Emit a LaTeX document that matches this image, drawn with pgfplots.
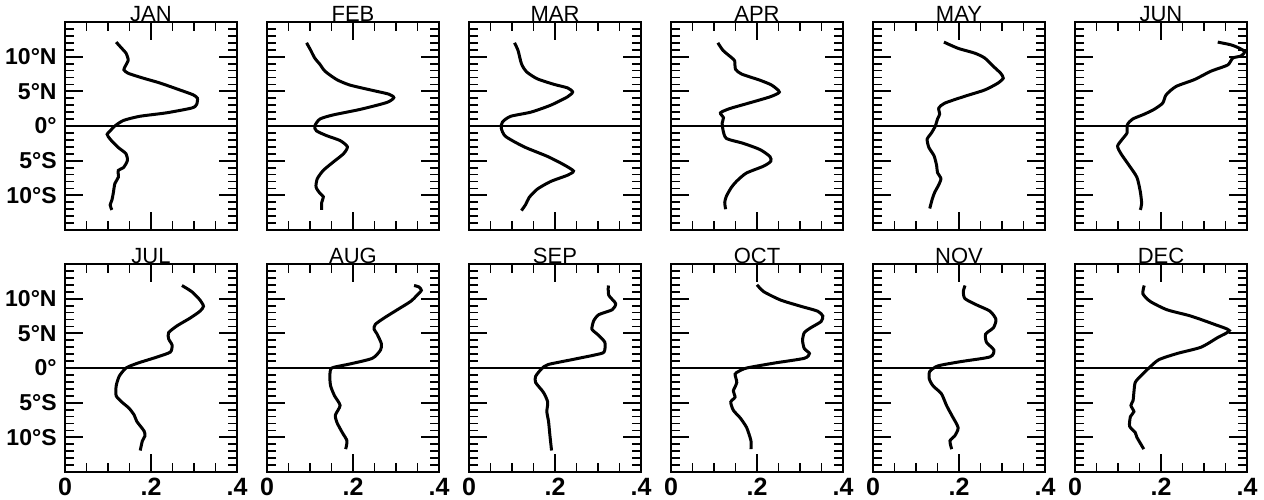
\documentclass[border=0pt]{standalone}
\usepackage{fontspec}
\setmainfont{Liberation Sans}
\usepackage{pgfplots}
\pgfplotsset{compat=1.18}
\usepgfplotslibrary{groupplots}

\pgfplotsset{
  every axis title/.style={at={(0.5,1)}, anchor=base, inner sep=0pt, yshift=0.5pt,
    font=\fontsize{11}{11}\selectfont},
  panel/.style={
    scale only axis, width=86pt, height=104pt,
    xmin=0, xmax=0.4, ymin=-15, ymax=15,
    xtick={0,0.2,0.4},
    minor xtick={0.05,0.1,0.15,0.25,0.3,0.35},
    ytick={-10,-5,0,5,10},
    minor ytick={-14,-13,-12,-11,-9,-8,-7,-6,-4,-3,-2,-1,1,2,3,4,6,7,8,9,11,12,13,14},
    tick align=inside,
    major tick length=9pt, minor tick length=4.5pt,
    every tick/.style={black, line width=0.9pt},
    axis line style={line width=1pt},
    xticklabels={}, yticklabels={},
    xticklabel style={font=\fontsize{12.5}{12.5}\selectfont\bfseries, inner sep=0pt, yshift=-3pt},
    yticklabel style={font=\fontsize{11.5}{11.5}\selectfont\bfseries, inner sep=0pt, xshift=-4pt},
  },
  curve/.style={black, line width=1.5pt, smooth, tension=0.4, no marks},
  eq/.style={black, line width=0.7pt, no marks},
}

\begin{document}
\begin{tikzpicture}
\begin{groupplot}[group style={group size=6 by 2, horizontal sep=15pt, vertical sep=17pt}, panel]

% ---- top row
\nextgroupplot[title={JAN}, yticklabels={10°S,5°S,0°,5°N,10°N}]
\addplot[eq] coordinates {(0,0) (0.4,0)};
\addplot[curve] coordinates {
(0.119,12.1) (0.132,11.2) (0.142,10.5) (0.147,9.5) (0.140,8.6) (0.137,8.1)
(0.147,7.6) (0.182,6.9) (0.221,6.2) (0.267,5.2) (0.298,4.5) (0.308,4.0)
(0.306,3.1) (0.295,2.6) (0.236,1.9) (0.174,1.4) (0.136,0.8) (0.116,0)
(0.105,-0.7) (0.098,-1.2) (0.105,-1.9) (0.124,-3.1) (0.142,-4.0) (0.145,-5.0)
(0.136,-6.0) (0.124,-6.4) (0.124,-7.4) (0.116,-8.3) (0.112,-9.8) (0.109,-10.7)
(0.105,-11.4) (0.109,-12.1)};

\nextgroupplot[title={FEB}]
\addplot[eq] coordinates {(0,0) (0.4,0)};
\addplot[curve] coordinates {
(0.092,12.0) (0.101,11.0) (0.111,9.8) (0.123,8.9) (0.135,7.9) (0.162,6.7)
(0.193,5.9) (0.248,5.1) (0.283,4.6) (0.295,4.1) (0.279,3.4) (0.217,2.4)
(0.154,1.6) (0.123,1.0) (0.111,0) (0.115,-0.7) (0.139,-1.4) (0.170,-2.1)
(0.187,-3.0) (0.178,-4.0) (0.154,-5.2) (0.131,-6.4) (0.117,-7.6) (0.114,-8.8)
(0.123,-9.7) (0.131,-10.2) (0.127,-11.1) (0.127,-12.1)};

\nextgroupplot[title={MAR}]
\addplot[eq] coordinates {(0,0) (0.4,0)};
\addplot[curve] coordinates {
(0.106,12.0) (0.114,10.9) (0.120,9.4) (0.124,8.7) (0.134,7.8) (0.159,6.8)
(0.198,6.0) (0.229,5.5) (0.241,4.9) (0.229,4.2) (0.190,3.0) (0.144,2.0)
(0.097,1.4) (0.078,0.6) (0.075,-0.3) (0.085,-1.5) (0.128,-3.0) (0.183,-4.4)
(0.221,-5.6) (0.243,-6.5) (0.229,-7.1) (0.190,-8.0) (0.159,-9.1) (0.140,-10.3)
(0.132,-11.3) (0.122,-12.2)};

\nextgroupplot[title={APR}]
\addplot[eq] coordinates {(0,0) (0.4,0)};
\addplot[curve] coordinates {
(0.109,12.0) (0.121,10.9) (0.140,9.9) (0.148,9.4) (0.150,8.2) (0.164,7.5)
(0.207,6.6) (0.234,5.9) (0.252,4.9) (0.230,4.2) (0.175,3.2) (0.136,2.5)
(0.115,1.9) (0.122,1.2) (0.119,0.4) (0.121,-0.6) (0.129,-1.8) (0.168,-2.5)
(0.207,-3.4) (0.230,-4.4) (0.232,-5.1) (0.215,-5.8) (0.175,-6.8) (0.152,-8.0)
(0.140,-8.9) (0.129,-10.1) (0.125,-11.0) (0.127,-12.0)};

\nextgroupplot[title={MAY}]
\addplot[eq] coordinates {(0,0) (0.4,0)};
\addplot[curve] coordinates {
(0.165,12.1) (0.198,11.2) (0.237,10.5) (0.260,9.8) (0.280,8.6) (0.297,7.6)
(0.303,6.9) (0.291,6.2) (0.260,5.2) (0.214,4.3) (0.167,3.3) (0.153,2.6)
(0.155,1.7) (0.150,1.0) (0.145,0) (0.136,-1.0) (0.126,-1.9) (0.130,-3.1)
(0.142,-4.3) (0.148,-5.7) (0.150,-6.7) (0.158,-7.6) (0.152,-8.6) (0.144,-9.5)
(0.138,-10.5) (0.132,-11.9)};

\nextgroupplot[title={JUN}]
\addplot[eq] coordinates {(0,0) (0.4,0)};
\addplot[curve] coordinates {
(0.332,12.1) (0.363,11.7) (0.383,11.2) (0.395,10.7) (0.386,10.1) (0.367,9.8)
(0.355,8.8) (0.316,7.9) (0.278,6.7) (0.235,5.7) (0.212,4.5) (0.204,3.3)
(0.184,2.4) (0.161,1.7) (0.134,1.0) (0.122,0.2) (0.121,-1.0) (0.110,-1.9)
(0.099,-2.9) (0.107,-4.0) (0.126,-5.7) (0.144,-7.4) (0.152,-9.5) (0.155,-11.2)
(0.152,-12.1)};

% ---- bottom row
\nextgroupplot[title={JUL}, yticklabels={10°S,5°S,0°,5°N,10°N}, xticklabels={0,.2,.4}]
\addplot[eq] coordinates {(0,0) (0.4,0)};
\addplot[curve] coordinates {
(0.272,11.9) (0.295,11.0) (0.314,9.8) (0.322,8.9) (0.314,8.2) (0.291,7.2)
(0.261,6.1) (0.241,5.1) (0.241,4.2) (0.249,3.3) (0.245,2.3) (0.215,1.6)
(0.169,0.7) (0.142,0) (0.126,-1.2) (0.119,-2.6) (0.119,-4.0) (0.132,-4.9)
(0.149,-5.8) (0.161,-6.8) (0.167,-7.7) (0.184,-9.1) (0.186,-9.8) (0.180,-10.5)
(0.175,-11.9)};

\nextgroupplot[title={AUG}, xticklabels={0,.2,.4}]
\addplot[eq] coordinates {(0,0) (0.4,0)};
\addplot[curve] coordinates {
(0.342,11.9) (0.353,11.7) (0.359,11.2) (0.349,10.5) (0.334,9.6) (0.303,8.4)
(0.272,7.2) (0.252,6.3) (0.249,5.6) (0.256,4.9) (0.266,3.5) (0.264,2.6)
(0.245,1.4) (0.194,0.6) (0.155,0.1) (0.148,-0.2) (0.146,-1.2) (0.148,-2.6)
(0.157,-4.0) (0.170,-5.4) (0.159,-6.8) (0.163,-7.9) (0.175,-9.3) (0.186,-10.5)
(0.183,-11.7)};

\nextgroupplot[title={SEP}, xticklabels={0,.2,.4}]
\addplot[eq] coordinates {(0,0) (0.4,0)};
\addplot[curve] coordinates {
(0.324,11.9) (0.325,10.5) (0.341,9.3) (0.333,8.4) (0.302,7.7) (0.290,6.8)
(0.286,5.6) (0.298,4.9) (0.316,3.7) (0.314,2.3) (0.294,1.9) (0.239,1.2)
(0.184,0.5) (0.169,-0.1) (0.155,-1.2) (0.155,-2.1) (0.173,-3.5) (0.183,-4.9)
(0.181,-6.3) (0.185,-7.7) (0.188,-9.6) (0.192,-11.9)};

\nextgroupplot[title={OCT}, xticklabels={0,.2,.4}]
\addplot[eq] coordinates {(0,0) (0.4,0)};
\addplot[curve] coordinates {
(0.200,12.0) (0.216,11.0) (0.255,9.8) (0.302,8.9) (0.341,8.2) (0.353,7.5)
(0.349,6.7) (0.325,5.8) (0.310,5.1) (0.306,4.0) (0.310,2.8) (0.322,2.1)
(0.310,1.4) (0.239,0.7) (0.176,0) (0.157,-0.5) (0.149,-0.9) (0.153,-2.1)
(0.145,-3.3) (0.149,-4.2) (0.139,-4.9) (0.145,-6.1) (0.161,-7.2) (0.176,-8.6)
(0.186,-10.5) (0.186,-11.7)};

\nextgroupplot[title={NOV}, xticklabels={0,.2,.4}]
\addplot[eq] coordinates {(0,0) (0.4,0)};
\addplot[curve] coordinates {
(0.214,11.9) (0.210,11.0) (0.214,10.0) (0.241,9.1) (0.272,8.2) (0.286,7.0)
(0.280,5.8) (0.262,4.9) (0.264,3.7) (0.281,2.6) (0.272,1.6) (0.202,0.9)
(0.151,0.3) (0.132,-0.5) (0.131,-1.6) (0.140,-2.6) (0.159,-3.7) (0.171,-5.4)
(0.183,-6.8) (0.198,-8.6) (0.190,-9.8) (0.179,-10.5) (0.183,-11.7)};

\nextgroupplot[title={DEC}, xticklabels={0,.2,.4}]
\addplot[eq] coordinates {(0,0) (0.4,0)};
\addplot[curve] coordinates {
(0.161,11.9) (0.158,10.7) (0.175,9.6) (0.214,8.4) (0.269,7.5) (0.324,6.3)
(0.359,5.4) (0.332,4.4) (0.293,3.0) (0.238,2.1) (0.195,1.2) (0.172,0)
(0.152,-1.2) (0.140,-2.1) (0.137,-3.5) (0.135,-4.7) (0.130,-5.4) (0.137,-6.3)
(0.129,-7.0) (0.127,-8.4) (0.140,-9.3) (0.144,-10.0) (0.160,-11.7)};

\end{groupplot}
\pgfresetboundingbox
\path ($(group c1r1.north west)+(-32.5pt,11pt)$) rectangle ($(group c1r1.north west)+(599.5pt,-238.5pt)$);
\end{tikzpicture}
\end{document}
